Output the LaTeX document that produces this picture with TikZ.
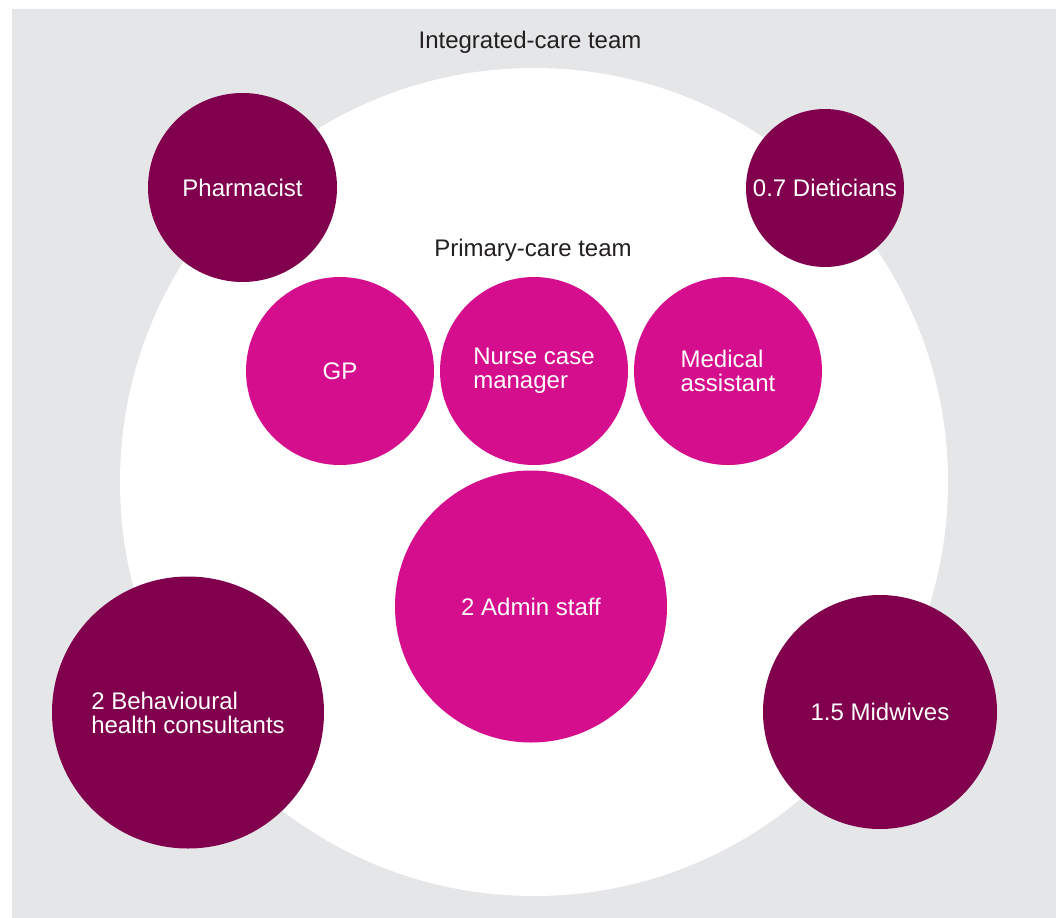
\documentclass[tikz,border=0pt]{standalone}
\usepackage{fontspec}
\setmainfont{Liberation Sans}
\definecolor{bggrey}{RGB}{229,230,232}
\definecolor{deeppurple}{RGB}{128,0,77}
\definecolor{brightpink}{RGB}{212,14,140}
\definecolor{labelgrey}{RGB}{35,31,32}
\tikzset{
  member/.style={circle, inner sep=0pt, text=white, align=left,
    font=\fontsize{24}{24}\selectfont},
  outer/.style={member, fill=deeppurple},
  inner/.style={member, fill=brightpink},
  title/.style={text=labelgrey, font=\fontsize{24}{24}\selectfont, inner sep=0pt}
}
\begin{document}
\begin{tikzpicture}[x=1pt,y=-1pt]
\useasboundingbox (0,0) rectangle (1061,918);
\fill[bggrey] (12,9) rectangle (1056,918);
\node[circle, fill=white, minimum size=828pt, inner sep=0pt] (integrated) at (534,482) {};
\node[title] (intlabel) at (530,42) {Integrated-care team};
\node[title] (primlabel) at (533,250) {Primary-care team};
\node[outer, minimum size=189pt] (pharm) at (242.5,187.5) {Pharmacist};
\node[outer, minimum size=158pt] (diet) at (825,188) {0.7 Dieticians};
\node[inner, minimum size=188pt] (gp) at (340,371) {GP};
\node[inner, minimum size=188pt] (nurse) at (534,371) {Nurse case\\manager};
\node[inner, minimum size=188pt] (medass) at (728,371) {Medical\\assistant};
\node[inner, minimum size=272pt] (admin) at (531,606.5) {2 Admin staff};
\node[outer, minimum size=272pt] (behav) at (188,712.5) {2 Behavioural\\health consultants};
\node[outer, minimum size=234pt] (midwife) at (880,712) {1.5 Midwives};
\end{tikzpicture}
\end{document}
